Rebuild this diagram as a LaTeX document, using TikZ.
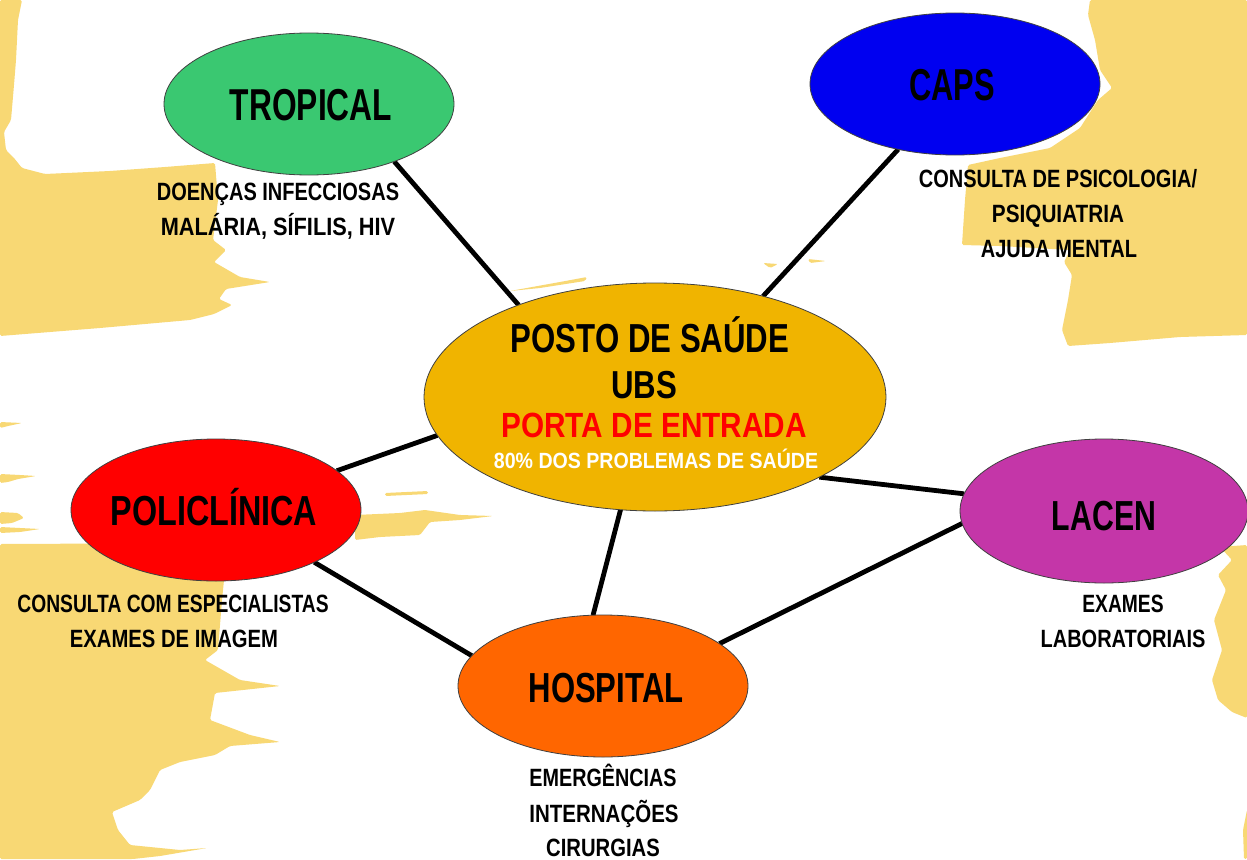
\documentclass[tikz,border=0pt]{standalone}
\usepackage{fontspec}
\setmainfont{Liberation Sans}
\usetikzlibrary{shapes.geometric,backgrounds}
\definecolor{brush}{RGB}{248,216,116}
\definecolor{cgreen}{RGB}{58,200,113}
\definecolor{cblue}{RGB}{0,0,240}
\definecolor{cgold}{RGB}{240,180,0}
\definecolor{cred}{RGB}{255,0,0}
\definecolor{cmag}{RGB}{196,54,168}
\definecolor{corange}{RGB}{255,102,0}
\newcommand\fsx[2]{\bfseries\fontsize{#1}{#1}\selectfont\addfontfeature{FakeStretch=#2}}
\begin{document}
\begin{tikzpicture}[x=1pt,y=-1pt,
  bubble/.style={ellipse, draw=black!75, line width=0.8pt, inner sep=0pt, outer sep=0pt, minimum width=290pt, minimum height=142pt},
  link/.style={line width=4.8pt, black},
  txt/.style={anchor=base, inner sep=0pt, text=black},
  sub/.style={txt, font=\fsx{25}{0.8}},
  brushfill/.style={fill=brush, draw=none, rounded corners=1.5pt}]
\useasboundingbox (0,0) rectangle (1247,859);

% bubbles
\node[bubble, fill=cgreen] (trop) at (309,104) {};
\node[bubble, fill=cblue] (caps) at (955,84) {};
\node[bubble, fill=cgold, minimum width=462pt, minimum height=228pt] (cen) at (655,397) {};
\node[bubble, fill=cred] (poli) at (216,510) {};
\node[bubble, fill=cmag, minimum width=288pt, minimum height=144pt] (lacen) at (1104,511) {};
\node[bubble, fill=corange] (hosp) at (603,686) {};

% titles
\node[txt, font=\fsx{44.7}{0.71}] (tropT) at (311,120) {TROPICAL};
\node[txt, font=\fsx{44.7}{0.69}] (capsT) at (952,100) {CAPS};
\node[txt, font=\fsx{42}{0.77}] (poliT) at (214,525) {POLICLÍNICA};
\node[txt, font=\fsx{42}{0.72}] (lacenT) at (1104,530) {LACEN};
\node[txt, font=\fsx{42}{0.74}] (hospT) at (606,702) {HOSPITAL};
\node[txt, font=\fsx{40.5}{0.77}] (cenT1) at (650,352) {POSTO DE SAÚDE};
\node[txt, font=\fsx{39}{0.80}] (cenT2) at (644,398) {UBS};
\node[txt, font=\fsx{35}{0.85}, text=cred] (cenT3) at (654,437) {PORTA DE ENTRADA};
\node[txt, font=\fsx{22}{0.89}, text=white] (cenT4) at (656,468) {80\% DOS PROBLEMAS DE SAÚDE};

% sub texts
\node[sub, font=\fsx{25}{0.80}] (tropS1) at (278,200) {DOENÇAS INFECCIOSAS};
\node[sub, font=\fsx{25}{0.87}] (tropS2) at (278,235) {MALÁRIA, SÍFILIS, HIV};
\node[sub, font=\fsx{25}{0.80}] (capsS1) at (1058,187) {CONSULTA DE PSICOLOGIA/};
\node[sub, font=\fsx{25}{0.83}] (capsS2) at (1058,222) {PSIQUIATRIA};
\node[sub, font=\fsx{25}{0.80}] (capsS3) at (1059,257) {AJUDA MENTAL};
\node[sub, font=\fsx{25}{0.77}] (poliS1) at (173,612) {CONSULTA COM ESPECIALISTAS};
\node[sub, font=\fsx{25}{0.81}] (poliS2) at (174,647) {EXAMES DE IMAGEM};
\node[sub, font=\fsx{25}{0.77}] (lacenS1) at (1123,612) {EXAMES};
\node[sub, font=\fsx{25}{0.80}] (lacenS2) at (1123,647) {LABORATORIAIS};
\node[sub, font=\fsx{25}{0.79}] (hospS1) at (603,786) {EMERGÊNCIAS};
\node[sub, font=\fsx{25}{0.82}] (hospS2) at (604,822) {INTERNAÇÕES};
\node[sub, font=\fsx{25}{0.81}] (hospS3) at (603,856) {CIRURGIAS};

\begin{pgfonlayer}{background}
\fill[white] (0,0) rectangle (1247,859);
% brush strokes
\fill[brushfill] (0,0) -- (22,0) -- (18,20) -- (16,60) -- (14,85) -- (11,120) -- (4,132) -- (6,150) -- (14,158) -- (22,168) -- (45,174) -- (110,171) -- (165,167) -- (215,163) -- (218,200) -- (213,240) -- (226,250) -- (214,262) -- (240,277) -- (270,282) -- (226,289) -- (219,299) -- (232,305) -- (214,314) -- (190,320) -- (100,328) -- (0,336) -- cycle;
\fill[brushfill] (1090,0) -- (1247,0) -- (1247,335) -- (1180,337) -- (1110,343) -- (1068,346) -- (1062,330) -- (1068,300) -- (1072,275) -- (1064,262) -- (1070,250) -- (1000,246) -- (962,245) -- (965,200) -- (968,165) -- (1000,158) -- (1050,148) -- (1080,128) -- (1098,100) -- (1112,88) -- (1100,70) -- (1095,40) -- (1088,15) -- cycle;
\fill[brushfill] (0,422) -- (22,423) -- (8,426) -- (0,428) -- cycle;
\fill[brushfill] (0,474) -- (20,475) -- (36,476) -- (18,479) -- (8,482) -- (0,483) -- cycle;
\fill[brushfill] (0,512) -- (18,513) -- (24,518) -- (12,523) -- (0,524) -- cycle;
\fill[brushfill] (0,527) -- (40,529) -- (20,532) -- (0,533) -- cycle;
\fill[brushfill] (385,493) -- (428,491) -- (428,494) -- (385,496) -- cycle;
\fill[brushfill] (355,515) -- (400,513) -- (425,510) -- (460,515) -- (493,516) -- (460,520) -- (430,522) -- (420,535) -- (380,537) -- (355,540) -- cycle;
\fill[brushfill] (510,291) -- (560,282) -- (587,277) -- (585,281) -- (540,288) -- cycle;
\fill[brushfill] (763,263) -- (778,264) -- (770,268) -- cycle;
\fill[brushfill] (808,259) -- (826,261) -- (810,263) -- cycle;
\fill[brushfill] (0,544) -- (235,543) -- (226,560) -- (222,600) -- (218,650) -- (205,660) -- (240,680) -- (280,686) -- (215,693) -- (210,720) -- (250,735) -- (280,742) -- (230,746) -- (215,755) -- (180,762) -- (160,770) -- (150,790) -- (140,800) -- (112,812) -- (118,830) -- (130,845) -- (180,850) -- (207,848) -- (160,856) -- (133,859) -- (0,859) -- cycle;
\fill[brushfill] (1247,545) -- (1220,547) -- (1232,560) -- (1218,575) -- (1226,590) -- (1214,620) -- (1222,650) -- (1212,680) -- (1218,700) -- (1232,712) -- (1247,718) -- cycle;
\fill[brushfill] (1247,810) -- (1243,830) -- (1244,859) -- (1247,859) -- cycle;
% connectors
\draw[link] (trop.-34) -- (cen.146);
\draw[link] (caps.-131) -- (cen.43.6);
\draw[link] (poli.18.9) -- (cen.190.7);
\draw[link] (poli.-28) -- (hosp.167.7);
\draw[link] (cen.-107) -- (hosp.98);
\draw[link] (cen.-26) -- (lacen.173);
\draw[link] (hosp.20.6) -- (lacen.185.6);
\end{pgfonlayer}
\end{tikzpicture}
\end{document}
